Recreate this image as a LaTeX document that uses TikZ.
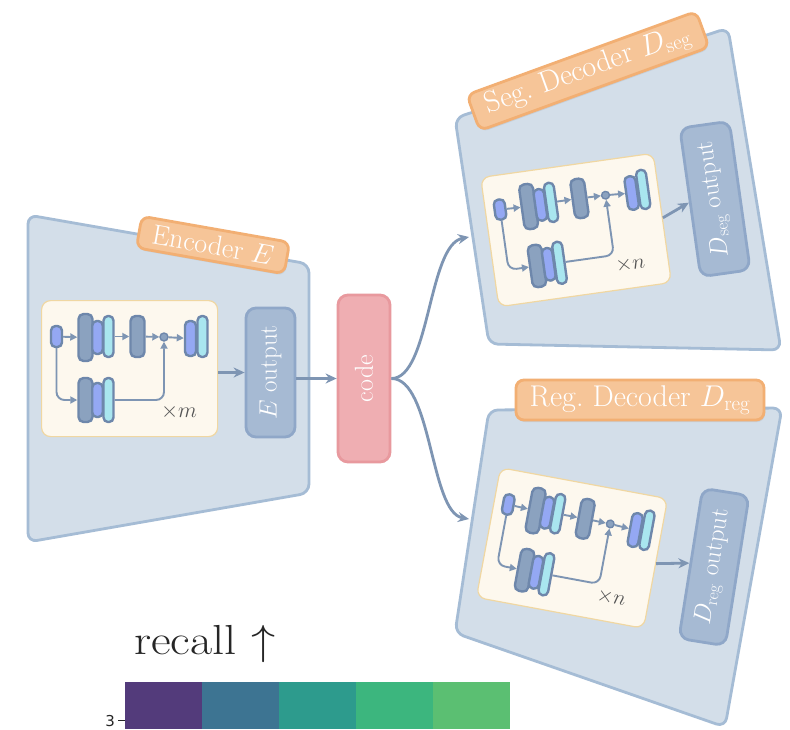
\RequirePackage{fix-cm}
\documentclass[tikz,border=0pt]{standalone}
\usepackage{fontspec}
\newfontfamily\dejavu{DejaVu Sans}
\usetikzlibrary{arrows.meta,shadows}
\definecolor{encfill}{HTML}{D3DEE9}
\definecolor{encline}{HTML}{A5BCD5}
\definecolor{labfill}{HTML}{F6C598}
\definecolor{labline}{HTML}{F2AF73}
\definecolor{outfill}{HTML}{A6BAD3}
\definecolor{outline}{HTML}{8FA7C8}
\definecolor{codefill}{HTML}{EFAEB2}
\definecolor{codeline}{HTML}{E8999E}
\definecolor{creamfill}{HTML}{FDF8EE}
\definecolor{creamline}{HTML}{F0D7A2}
\definecolor{blkdark}{HTML}{8BA2BF}
\definecolor{blkblue}{HTML}{94A8F3}
\definecolor{blkcyan}{HTML}{A9E6EF}
\definecolor{blkline}{HTML}{6E87AB}
\definecolor{conn}{HTML}{7E95B3}
\definecolor{txtgray}{HTML}{555555}
\definecolor{cbA}{HTML}{533B7B}
\definecolor{cbB}{HTML}{3D7492}
\definecolor{cbC}{HTML}{2D9B8D}
\definecolor{cbD}{HTML}{3CB67E}
\definecolor{cbE}{HTML}{5BBF72}
\tikzset{
  panel/.style={draw=encline, fill=encfill, line width=2.8pt, rounded corners=9pt, line join=round},
  lab/.style={draw=labline, fill=labfill, line width=2.8pt, rounded corners=8pt, text=white, inner sep=0pt,
    font=\fontsize{30}{32}\selectfont, drop shadow={opacity=0.15, shadow xshift=1pt, shadow yshift=-2pt}},
  outbox/.style={draw=outline, fill=outfill, line width=2.8pt, rounded corners=10pt, text=white, inner sep=0pt,
    font=\fontsize{25}{28}\selectfont},
  codebox/.style={draw=codeline, fill=codefill, line width=2.8pt, rounded corners=10pt, text=white, inner sep=0pt,
    font=\fontsize{26}{28}\selectfont},
  cream/.style={draw=creamline, fill=creamfill, line width=1.2pt, rounded corners=9pt, inner sep=0pt},
  dk/.style={draw=blkline, fill=blkdark, line width=2.4pt, rounded corners=5pt, minimum width=14pt, minimum height=#1, inner sep=0pt},
  bl/.style={draw=blkline, fill=blkblue, line width=2.4pt, rounded corners=4.5pt, minimum width=10.5pt, minimum height=#1, inner sep=0pt},
  cy/.style={draw=blkline, fill=blkcyan, line width=2.4pt, rounded corners=4.5pt, minimum width=10pt, minimum height=#1, inner sep=0pt},
  sumc/.style={circle, draw=blkline, fill=blkdark, line width=1.4pt, minimum size=8pt, inner sep=0pt},
  flow/.style={draw=conn, line width=1.9pt, -{Triangle[length=7pt,width=7pt]}},
  bigflow/.style={draw=conn, line width=2.8pt, -{Stealth[length=11pt,width=10pt]}},
  pics/resblk/.style={code={
    \node[cream, minimum width=176pt, minimum height=136pt, anchor=north west] (-box) at (0,0) {};
    \node[bl=21pt, minimum width=11pt] (-in) at (15.5,36.5) {};
    \node[dk=47pt] (-a1) at (44.5,37.5) {};
    \node[bl=33pt] (-a2) at (56.5,37.5) {};
    \node[cy=41pt] (-a3) at (67.5,36.5) {};
    \node[dk=41pt] (-b) at (96.5,36.5) {};
    \node[sumc] (-s) at (123,37) {};
    \node[bl=35pt, minimum width=11pt] (-c1) at (149.5,38.5) {};
    \node[cy=41pt] (-c2) at (161.5,36.5) {};
    \node[dk=44pt] (-l1) at (44.5,100) {};
    \node[bl=34pt] (-l2) at (56.5,100) {};
    \node[cy=44pt] (-l3) at (67.5,100) {};
    \node[font=\fontsize{22}{24}\selectfont, text=txtgray, inner sep=0pt] (-rep) at (138,112) {$\times #1$};
    \draw[flow] (-in) -- (-a1);
    \draw[flow] (-a3) -- (-b);
    \draw[flow] (-b) -- (-s);
    \draw[flow] (-s) -- (-c1);
    \draw[flow, rounded corners=8pt] (-in.south) |- (-l1.west);
    \draw[flow, rounded corners=8pt] (-l3.east) -| (-s.south);
  }},
}
\begin{document}
\begin{tikzpicture}[x=1pt, y=-1pt]
\useasboundingbox (0,0) rectangle (790,729);
\fill[white] (0,0) rectangle (790,729);

% panels
\draw[panel] (28,215) -- (309,264) -- (309,493) -- (28,542) -- cycle;
\draw[panel] (455,118) -- (728,28) -- (781,350) -- (489,344) -- cycle;
\draw[panel] (489,410) -- (782,408) -- (725,727) -- (455,633) -- cycle;

% labels
\node[lab, rotate=-10, minimum width=150pt, minimum height=32pt, font=\fontsize{28}{30}\selectfont] (enclab) at (213,245) {Encoder $E$};
\node[lab, rotate=20, minimum width=244pt, minimum height=38pt] (seglab) at (588,71) {Seg.\ Decoder $D_{\mathrm{seg}}$};
\node[lab, minimum width=248pt, minimum height=40pt] (reglab) at (640,400) {Reg.\ Decoder $D_{\mathrm{reg}}$};

% inner blocks
\pic (enc) at (41,300) {resblk=m};
\begin{scope}[shift={(480,177)}, rotate=8, xscale=0.99, yscale=0.96, transform shape]
  \pic (seg) at (0,0) {resblk=n};
\end{scope}
\begin{scope}[shift={(500,467)}, rotate=-10.5, xscale=0.966, yscale=0.97, transform shape]
  \pic (reg) at (0,0) {resblk=n};
\end{scope}

% outputs and code
\node[outbox, rotate=90, minimum width=129pt, minimum height=49pt] (eout) at (270.5,372.5) {$E$ output};
\node[codebox, rotate=90, minimum width=167pt, minimum height=52pt] (code) at (364,378.5) {code};
\node[outbox, rotate=98, minimum width=150pt, minimum height=50pt] (segout) at (715,199) {$D_{\mathrm{seg}}$ output};
\node[outbox, rotate=81, minimum width=152pt, minimum height=47pt] (regout) at (714,567) {$D_{\mathrm{reg}}$ output};

% connectors
\coordinate (segin) at (469,237);
\coordinate (regin) at (469,519);
\draw[bigflow] (enc-box.east |- eout.north) -- (eout.north);
\draw[bigflow] (eout.south |- code.north) -- (code.north);
\draw[bigflow] (code.south) .. controls (430,378.5) and (428,245) .. (segin);
\draw[bigflow] (code.south) .. controls (432,378.5) and (430,512) .. (regin);
\draw[bigflow] (seg-box.east) -- (segout.north);
\draw[bigflow] (reg-box.east) -- (regout.north);

% legend
\node[anchor=base west, inner sep=0pt, font=\fontsize{42}{46}\selectfont, text=black!85] (recall) at (134,654) {\scalebox{1.15}[1]{recall $\uparrow$}};
\fill[cbA] (125,682) rectangle (202,729);
\fill[cbB] (202,682) rectangle (279,729);
\fill[cbC] (279,682) rectangle (356,729);
\fill[cbD] (356,682) rectangle (433,729);
\fill[cbE] (433,682) rectangle (510,729);
\coordinate (tickR) at (125,720);
\coordinate (tickL) at (118,720);
\draw[line width=1pt, black!85] (tickL) -- (tickR);
\node[anchor=east, inner sep=0pt, font=\dejavu\fontsize{15}{17}\selectfont, text=black!85] (tick3) at (115,721) {3};
\end{tikzpicture}
\end{document}
